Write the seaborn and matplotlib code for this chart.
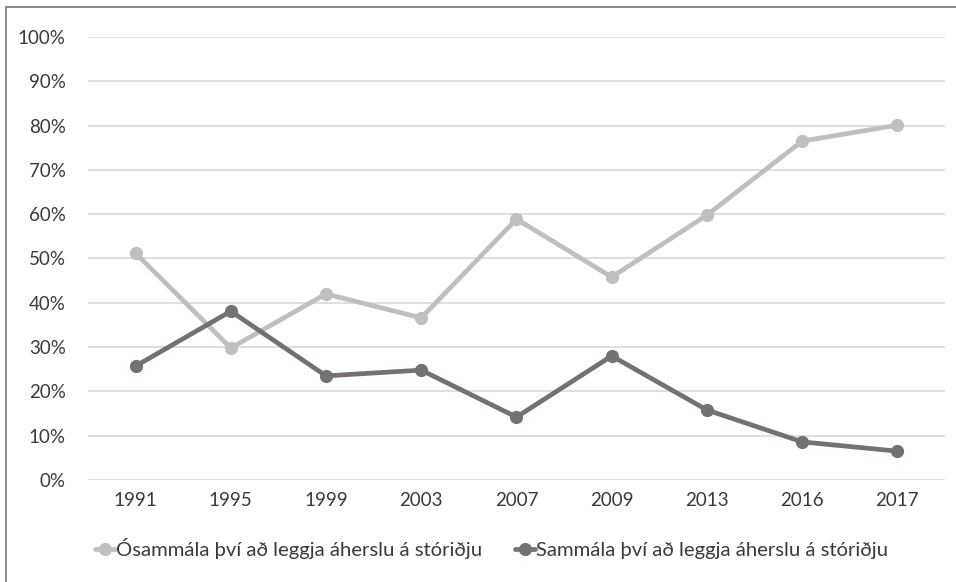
import pandas as pd
import numpy as np
import seaborn as sns
import matplotlib.pyplot as plt
from matplotlib.lines import Line2D
from matplotlib.ticker import PercentFormatter

years = ['1991', '1995', '1999', '2003', '2007', '2009', '2013', '2016', '2017']
osammala = [51.2, 29.8, 42.0, 36.6, 58.9, 45.8, 59.8, 76.5, 80.1]
sammala = [25.7, 38.1, 23.5, 24.8, 14.2, 28.0, 15.8, 8.6, 6.5]
lab_os = 'Ósammála því að leggja áherslu á stóriðju'
lab_sa = 'Sammála því að leggja áherslu á stóriðju'

df = pd.DataFrame({'ar': years * 2,
                   'hlutfall': osammala + sammala,
                   'hopur': [lab_os] * len(years) + [lab_sa] * len(years)})

sns.set_style('white')
plt.rcParams['font.family'] = ['Lato', 'DejaVu Sans']

fig = plt.figure(figsize=(9.56, 5.82), dpi=100)
ax = fig.add_axes([0.092, 0.1753, 0.8965, 0.7611])

sns.lineplot(data=df, x='ar', y='hlutfall', hue='hopur',
             palette={lab_os: '#BFBFBF', lab_sa: '#767171'},
             marker='o', markersize=9.5, markeredgewidth=0, linewidth=3.4,
             ax=ax, legend=False, zorder=3)

ax.set_ylim(0, 100)
ax.set_xlim(-0.5, len(years) - 0.5)
ax.set_yticks(np.arange(0, 101, 10))
ax.yaxis.set_major_formatter(PercentFormatter(decimals=0))
ax.grid(axis='y', color='#D9D9D9', linewidth=1.2)
ax.grid(axis='x', visible=False)
for s in ax.spines.values():
    s.set_visible(False)
ax.tick_params(axis='both', length=0, labelsize=13.5, colors='#3A3A3A')
ax.tick_params(axis='x', pad=9)
ax.tick_params(axis='y', pad=16)
ax.set_xlabel('')
ax.set_ylabel('')

handles = [Line2D([], [], color='#BFBFBF', lw=3.4, marker='o', markersize=9.5, markeredgewidth=0),
           Line2D([], [], color='#767171', lw=3.4, marker='o', markersize=9.5, markeredgewidth=0)]
fig.legend(handles, [lab_os, lab_sa], loc='center', bbox_to_anchor=(0.514, 0.057),
           ncol=2, frameon=False, fontsize=14.6, handlelength=1.0, handletextpad=0.05,
           columnspacing=1.6, labelcolor='#3A3A3A')

# outer chart frame (left and top edges visible)
fig.add_artist(Line2D([0.006, 0.006], [0.0, 0.988], color='#808080', lw=1.3))
fig.add_artist(Line2D([0.006, 1.0], [0.988, 0.988], color='#808080', lw=1.3))

fig.savefig('out.png', dpi=100)
